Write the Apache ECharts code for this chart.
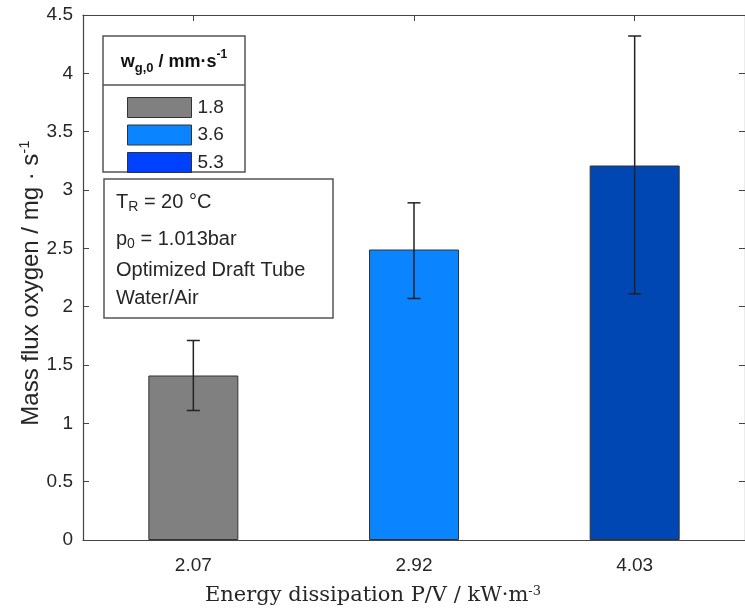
<!DOCTYPE html>
<html>
<head>
<meta charset="utf-8">
<script src="https://cdn.jsdelivr.net/npm/echarts@6/dist/echarts.min.js"></script>
<style>
  html, body { margin: 0; padding: 0; background: #fff; }
  #chart { width: 745px; height: 613px; }
</style>
</head>
<body>
<div id="chart"></div>
<script>
// energy dissipation categories (kW/m3)
const categories = ['2.07', '2.92', '4.03'];
// superficial gas velocity for each bar (mm/s)
const speeds = ['1.8', '3.6', '5.3'];
const massFlux = [1.41, 2.49, 3.21];
const errLow = [1.11, 2.07, 2.11];
const errHigh = [1.71, 2.89, 4.32];
const barColors = ['#808080', '#0a84ff', '#0047b3'];
const legendColors = ['#808080', '#0a84ff', '#0040ff'];
const noteLines = ['{t|T}{sub|R}{t| = 20 °C}', '{t|p}{sub|0}{t| = 1.013bar}', '{t|Optimized Draft Tube}', '{t|Water/Air}'];

const sans = 'Liberation Sans, Arial, sans-serif';
const serif = 'DejaVu Serif, serif';
const ink = '#262626';

const chart = echarts.init(document.getElementById('chart'));

// one series per gas velocity, overlapping at the category centre
const barSeries = speeds.map((s, i) => ({
  name: s,
  type: 'bar',
  barWidth: 90,
  barGap: '-100%',
  data: categories.map((c, j) => (j === i ? massFlux[j] : '-')),
  itemStyle: { color: barColors[i], borderColor: '#333', borderWidth: 1 },
  z: 2
}));

const errorSeries = {
  type: 'custom',
  data: categories.map((c, j) => [j, errLow[j], errHigh[j]]),
  encode: { x: 0, y: [1, 2] },
  z: 5,
  renderItem: (params, api) => {
    const lo = api.coord([api.value(0), api.value(1)]);
    const hi = api.coord([api.value(0), api.value(2)]);
    const w = 6.5;
    const st = { stroke: '#222', lineWidth: 1.5 };
    return {
      type: 'group',
      children: [
        { type: 'line', shape: { x1: lo[0], y1: lo[1], x2: hi[0], y2: hi[1] }, style: st },
        { type: 'line', shape: { x1: lo[0] - w, y1: lo[1], x2: lo[0] + w, y2: lo[1] }, style: st },
        { type: 'line', shape: { x1: hi[0] - w, y1: hi[1], x2: hi[0] + w, y2: hi[1] }, style: st }
      ]
    };
  }
};

const axisLine = { show: true, onZero: false, lineStyle: { color: '#444', width: 1.2 } };
const tickIn = { show: true, inside: true, length: 6, lineStyle: { color: '#444' } };

const option = {
  animation: false,
  backgroundColor: '#fff',
  grid: { left: 83, right: -7, top: 15, bottom: 73 },
  xAxis: [
    {
      type: 'category',
      data: categories,
      axisLine: axisLine,
      axisTick: Object.assign({ alignWithLabel: true }, tickIn),
      axisLabel: { fontSize: 19, color: ink, fontFamily: sans, margin: 16 },
      name: 'Energy dissipation P/V / kW·m{s|-3}',
      nameLocation: 'middle',
      nameGap: 45,
      nameTextStyle: {
        fontSize: 21, color: ink, fontFamily: serif, padding: [0, 82, 0, 0],
        rich: { s: { fontSize: 13, verticalAlign: 'top', lineHeight: 12, fontFamily: serif, color: ink } }
      }
    },
    {
      type: 'category',
      data: categories,
      position: 'top',
      axisLine: axisLine,
      axisTick: Object.assign({ alignWithLabel: true }, tickIn),
      axisLabel: { show: false }
    }
  ],
  yAxis: [
    {
      type: 'value',
      min: 0, max: 4.5, interval: 0.5,
      axisLine: axisLine,
      axisTick: tickIn,
      splitLine: { show: false },
      axisLabel: { fontSize: 19, color: ink, fontFamily: sans, margin: 10 },
      name: '{b|Mass flux oxygen / mg · s}{s|-1}',
      nameLocation: 'middle',
      nameRotate: 90,
      nameGap: 38,
      nameMoveOverlap: false,
      nameTextStyle: {
        padding: [0, 11, 0, 0],
        rich: {
          b: { fontSize: 24, lineHeight: 28, fontFamily: sans, color: ink },
          s: { fontSize: 15, lineHeight: 15, verticalAlign: 'top', fontFamily: sans, color: ink }
        }
      }
    },
    {
      type: 'value',
      min: 0, max: 4.5, interval: 0.5,
      position: 'right',
      axisLine: axisLine,
      axisTick: tickIn,
      splitLine: { show: false },
      axisLabel: { show: false }
    }
  ],
  legend: {
    orient: 'vertical',
    left: 122,
    top: 92,
    icon: 'rect',
    itemWidth: 64,
    itemHeight: 20,
    itemGap: 6.5,
    selectedMode: false,
    z: 10,
    data: speeds.map((s, i) => ({
      name: s,
      itemStyle: { color: legendColors[i], borderColor: '#333', borderWidth: 1 }
    })),
    textStyle: { fontSize: 19, color: ink, fontFamily: sans, padding: [0, 0, 0, 1] }
  },
  graphic: [
    // legend frame + title
    { type: 'rect', shape: { x: 103, y: 36, width: 142, height: 136 }, style: { fill: '#fff', stroke: '#555', lineWidth: 1.5 }, z: 1 },
    { type: 'line', shape: { x1: 103, y1: 85, x2: 245, y2: 85 }, style: { stroke: '#555', lineWidth: 1.5 }, z: 1 },
    {
      type: 'text', x: 174, y: 62, z: 11,
      style: {
        text: '{b|w}{sub|g,0}{b| / mm·s}{sup|-1}',
        align: 'center', verticalAlign: 'middle',
        rich: {
          b: { fontSize: 18, fontWeight: 'bold', fontFamily: sans, fill: '#111', lineHeight: 26 },
          sub: { fontSize: 13, fontWeight: 'bold', fontFamily: sans, fill: '#111', verticalAlign: 'bottom', lineHeight: 13 },
          sup: { fontSize: 12, fontWeight: 'bold', fontFamily: sans, fill: '#111', verticalAlign: 'top', lineHeight: 12 }
        }
      }
    },
    // operating conditions box
    { type: 'rect', shape: { x: 104, y: 179, width: 229, height: 139 }, style: { fill: '#fff', stroke: '#555', lineWidth: 1.5 }, z: 1 }
  ].concat(noteLines.map((t, i) => ({
    type: 'text', x: 116, y: [202, 239, 270, 298][i], z: 11,
    style: {
      text: t,
      align: 'left', verticalAlign: 'middle',
      rich: {
        t: { fontSize: 20, fontFamily: sans, fill: ink, lineHeight: 24 },
        sub: { fontSize: 14, fontFamily: sans, fill: ink, verticalAlign: 'bottom', lineHeight: 12 }
      }
    }
  }))),
  series: barSeries.concat([errorSeries])
};

chart.setOption(option);
</script>
</body>
</html>
